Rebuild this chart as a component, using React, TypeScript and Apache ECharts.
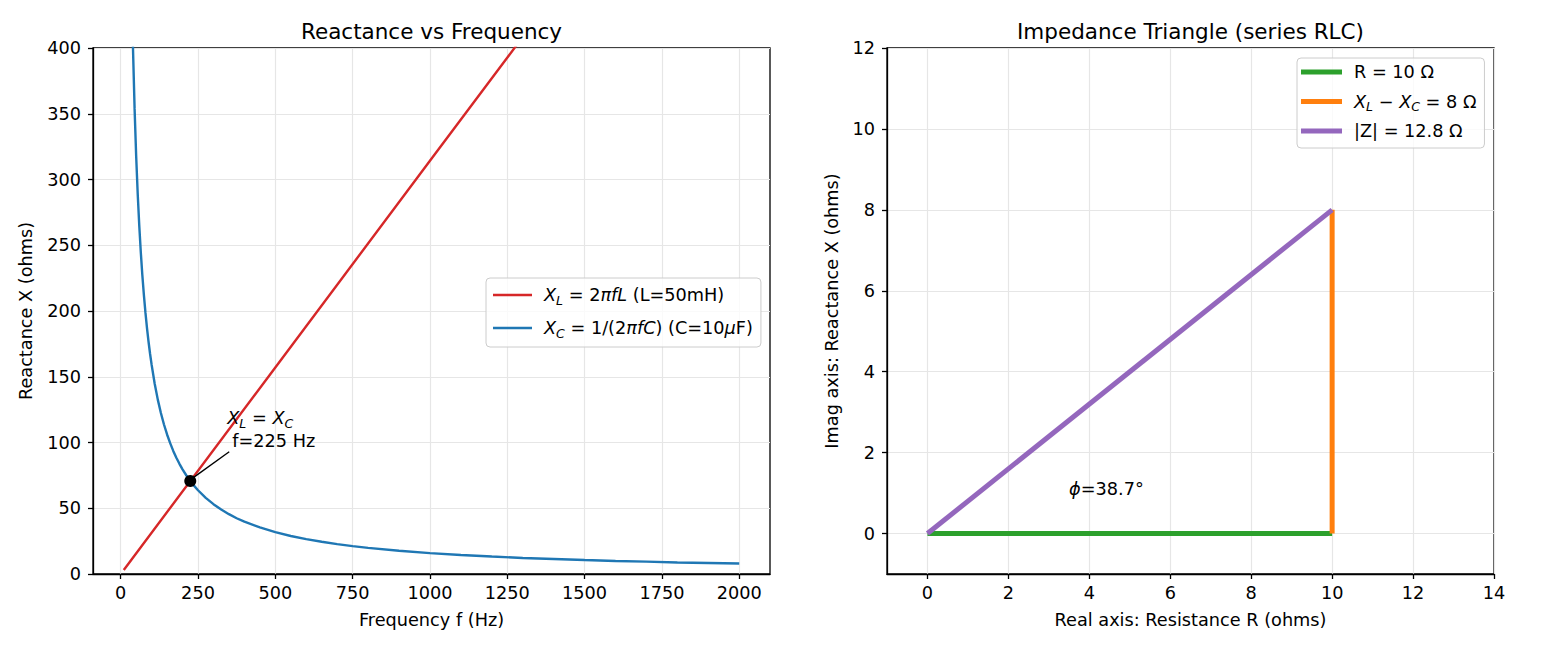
import React, { useEffect, useRef } from "react";
import * as echarts from "echarts";

// ---- Data ----
const freqTicks = [0, 250, 500, 750, 1000, 1250, 1500, 1750, 2000];
const reactTicks = [0, 50, 100, 150, 200, 250, 300, 350, 400];
const xlPoints: [number, number][] = [
  [10, 3.1], [500, 157.1], [1000, 314.2], [1500, 471.2], [2000, 628.3],
];
const xcPoints: [number, number][] = [
  [10, 1591.5], [20, 795.8], [30, 530.5], [35, 454.7], [40, 397.9], [45, 353.7],
  [50, 318.3], [55, 289.4], [60, 265.3], [65, 244.9], [70, 227.4], [75, 212.2],
  [80, 198.9], [85, 187.2], [90, 176.8], [95, 167.5], [100, 159.2], [110, 144.7],
  [120, 132.6], [130, 122.4], [140, 113.7], [150, 106.1], [160, 99.5], [170, 93.6],
  [180, 88.4], [190, 83.8], [200, 79.6], [212, 75.1], [225, 70.7], [237, 67.2],
  [250, 63.7], [275, 57.9], [300, 53.1], [325, 49.0], [350, 45.5], [375, 42.4],
  [400, 39.8], [450, 35.4], [500, 31.8], [550, 28.9], [600, 26.5], [650, 24.5],
  [700, 22.7], [750, 21.2], [800, 19.9], [900, 17.7], [1000, 15.9], [1100, 14.5],
  [1200, 13.3], [1300, 12.2], [1400, 11.4], [1500, 10.6], [1600, 9.9], [1700, 9.4],
  [1800, 8.8], [1900, 8.4], [2000, 8.0],
];
const resonancePoint: [number, number] = [225, 70.7];
const annotTextAt: [number, number] = [344.6, 110.3];
const arrowFrom: [number, number] = [351, 93];
const arrowTo: [number, number] = [236, 73.5];

const realTicks = [0, 2, 4, 6, 8, 10, 12, 14];
const imagTicks = [0, 2, 4, 6, 8, 10, 12];
const rSeg: [number, number][] = [[0, 0], [10, 0]];
const xSeg: [number, number][] = [[10, 0], [10, 8]];
const zSeg: [number, number][] = [[0, 0], [10, 8]];
const phiAt: [number, number] = [3.5, 1.09];

const NAME_XL = "XL = 2πfL (L=50mH)";
const NAME_XC = "XC = 1/(2πfC) (C=10μF)";
const NAME_R = "R = 10 Ω";
const NAME_X = "XL − XC = 8 Ω";
const NAME_Z = "|Z| = 12.8 Ω";

const FONT = "DejaVu Sans";
const FS = 17.7;

const rich = {
  n: { fontFamily: FONT, fontSize: FS, color: "#000", lineHeight: 24 },
  i: { fontFamily: FONT, fontSize: FS, fontStyle: "italic", color: "#000", lineHeight: 24 },
  s: { fontFamily: FONT, fontSize: 12.5, fontStyle: "italic", color: "#000", lineHeight: 24, verticalAlign: "bottom" },
  n2: { fontFamily: FONT, fontSize: FS, color: "#000", lineHeight: 22, padding: [0, 0, 0, 5] },
};
const rich2 = {
  n: { fontFamily: FONT, fontSize: FS, color: "#000", lineHeight: 22 },
  i: { fontFamily: FONT, fontSize: FS, fontStyle: "italic", color: "#000", lineHeight: 22 },
  s: { fontFamily: FONT, fontSize: 12.5, fontStyle: "italic", color: "#000", lineHeight: 22, verticalAlign: "bottom" },
};

const legendFmt: Record<string, string> = {
  [NAME_XL]: "{i|X}{s|L}{n| = 2}{i|πfL}{n| (L=50mH)}",
  [NAME_XC]: "{i|X}{s|C}{n| = 1/(2}{i|πfC}{n|) (C=10}{i|μ}{n|F)}",
  [NAME_R]: "{n|R = 10 Ω}",
  [NAME_X]: "{i|X}{s|L}{n| − }{i|X}{s|C}{n| = 8 Ω}",
  [NAME_Z]: "{n||Z| = 12.8 Ω}",
};

const plainNum = (v: number) => String(v);

const axisCommon = {
  axisLine: { show: true, onZero: false, lineStyle: { color: "#000", width: 1.3 } },
  axisTick: { show: true, inside: false, length: 5, lineStyle: { color: "#000", width: 1.3 } },
  splitLine: { show: true, lineStyle: { color: "#e6e6e6", width: 1.2 } },
  nameTextStyle: { fontFamily: FONT, fontSize: FS, color: "#000" },
};

export default function App() {
  const ref = useRef<HTMLDivElement>(null);
  useEffect(() => {
    if (!ref.current) return;
    const chart = echarts.init(ref.current, null, { renderer: "svg" });
    const option: any = {
      animation: false,
      backgroundColor: "#fff",
      graphic: [
        { type: "text", x: 431.5, y: 31, style: { text: "Reactance vs Frequency", font: `21.5px "${FONT}"`, fill: "#000", align: "center", verticalAlign: "middle" } },
        { type: "text", x: 1190.5, y: 31, style: { text: "Impedance Triangle (series RLC)", font: `21.5px "${FONT}"`, fill: "#000", align: "center", verticalAlign: "middle" } },
      ],
      grid: [
        { left: 93, top: 48, width: 677, height: 526, show: true, borderColor: "#000", borderWidth: 1.3, containLabel: false },
        { left: 887, top: 48, width: 607, height: 526, show: true, borderColor: "#000", borderWidth: 1.3, containLabel: false },
      ],
      xAxis: [
        {
          ...axisCommon, type: "value", gridIndex: 0, min: -89.5, max: 2099.5,
          name: "Frequency f (Hz)", nameLocation: "middle", nameGap: 37,
          axisTick: { ...axisCommon.axisTick, customValues: freqTicks },
          axisLabel: { customValues: freqTicks, formatter: plainNum, fontFamily: FONT, fontSize: FS, color: "#000", margin: 10 },
        },
        {
          ...axisCommon, type: "value", gridIndex: 1, min: -1, max: 14,
          name: "Real axis: Resistance R (ohms)", nameLocation: "middle", nameGap: 37,
          axisTick: { ...axisCommon.axisTick, customValues: realTicks },
          axisLabel: { customValues: realTicks, formatter: plainNum, fontFamily: FONT, fontSize: FS, color: "#000", margin: 10 },
        },
      ],
      yAxis: [
        {
          ...axisCommon, type: "value", gridIndex: 0, min: 0, max: 400,
          name: "Reactance X (ohms)", nameLocation: "middle", nameGap: 58,
          axisTick: { ...axisCommon.axisTick, customValues: reactTicks },
          axisLabel: { customValues: reactTicks, formatter: plainNum, fontFamily: FONT, fontSize: FS, color: "#000", margin: 12 },
        },
        {
          ...axisCommon, type: "value", gridIndex: 1, min: -1, max: 12,
          name: "Imag axis: Reactance X (ohms)", nameLocation: "middle", nameGap: 46,
          axisTick: { ...axisCommon.axisTick, customValues: imagTicks },
          axisLabel: { customValues: imagTicks, formatter: plainNum, fontFamily: FONT, fontSize: FS, color: "#000", margin: 12 },
        },
      ],
      legend: [
        {
          orient: "vertical", left: 486, top: 278, data: [NAME_XL, NAME_XC],
          icon: "rect", itemWidth: 39, itemHeight: 2.6, itemGap: 9,
          padding: [5, 8, 7, 7],
          backgroundColor: "rgba(255,255,255,0.8)", borderColor: "#cccccc", borderWidth: 1, borderRadius: 4,
          formatter: (name: string) => legendFmt[name],
          textStyle: { rich, lineHeight: 24, padding: [0, 0, 0, 7] },
          selectedMode: false,
        },
        {
          orient: "vertical", left: 1297, top: 58, data: [NAME_R, NAME_X, NAME_Z],
          icon: "rect", itemWidth: 41, itemHeight: 5, itemGap: 7.5,
          padding: [3, 8, 6, 4],
          backgroundColor: "rgba(255,255,255,0.8)", borderColor: "#cccccc", borderWidth: 1, borderRadius: 4,
          formatter: (name: string) => legendFmt[name],
          textStyle: { rich: rich2, lineHeight: 22, padding: [0, 0, 0, 7] },
          selectedMode: false,
        },
      ],
      series: [
        {
          name: NAME_XL, type: "line", xAxisIndex: 0, yAxisIndex: 0, data: xlPoints,
          showSymbol: false, clip: true, color: "#d62728", lineStyle: { color: "#d62728", width: 2.4 },
        },
        {
          name: NAME_XC, type: "line", xAxisIndex: 0, yAxisIndex: 0, data: xcPoints,
          showSymbol: false, clip: true, color: "#1f77b4", lineStyle: { color: "#1f77b4", width: 2.4 },
        },
        {
          name: "resonance", type: "scatter", xAxisIndex: 0, yAxisIndex: 0, data: [resonancePoint],
          symbol: "circle", symbolSize: 12, itemStyle: { color: "#000", opacity: 1 }, z: 5,
          markLine: {
            silent: true, symbol: ["none", "arrow"], symbolSize: [0, 10],
            lineStyle: { color: "#000", width: 1.4, type: "solid", opacity: 1 }, label: { show: false },
            data: [[{ coord: arrowFrom }, { coord: arrowTo }]],
          },
        },
        {
          name: "annot", type: "scatter", xAxisIndex: 0, yAxisIndex: 0, data: [annotTextAt],
          symbolSize: 0, itemStyle: { color: "transparent" }, z: 6,
          label: {
            show: true, position: "right", distance: 0, align: "left", verticalAlign: "middle",
            color: "#000", opacity: 1,
            formatter: "{i|X}{s|L}{n| = }{i|X}{s|C}\n{n2|f=225 Hz}", rich,
          },
        },
        {
          name: NAME_R, type: "line", xAxisIndex: 1, yAxisIndex: 1, data: rSeg,
          showSymbol: false, color: "#2ca02c", lineStyle: { color: "#2ca02c", width: 5 },
        },
        {
          name: NAME_X, type: "line", xAxisIndex: 1, yAxisIndex: 1, data: xSeg,
          showSymbol: false, color: "#ff7f0e", lineStyle: { color: "#ff7f0e", width: 5 },
        },
        {
          name: NAME_Z, type: "line", xAxisIndex: 1, yAxisIndex: 1, data: zSeg,
          showSymbol: false, color: "#9467bd", lineStyle: { color: "#9467bd", width: 5 },
        },
        {
          name: "phi", type: "scatter", xAxisIndex: 1, yAxisIndex: 1, data: [phiAt],
          symbolSize: 0, itemStyle: { color: "transparent" },
          label: {
            show: true, position: "right", distance: 0, align: "left", verticalAlign: "middle",
            color: "#000", opacity: 1,
            formatter: "{i|ϕ}{n|=38.7°}", rich,
          },
        },
      ],
    };
    chart.setOption(option);
    return () => chart.dispose();
  }, []);
  return (
    <div
      ref={ref}
      style={{ position: "fixed", left: 0, top: 0, width: 1560, height: 650, background: "#fff" }}
    />
  );
}
